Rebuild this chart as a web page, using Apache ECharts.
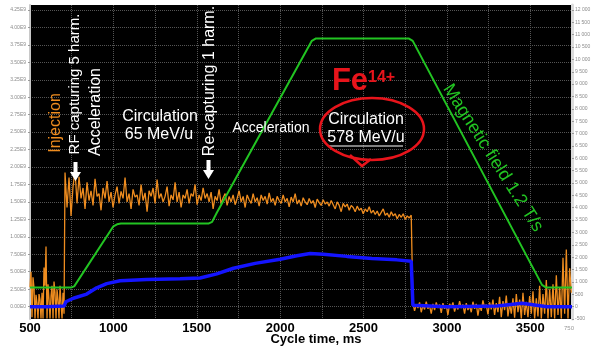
<!DOCTYPE html>
<html>
<head>
<meta charset="utf-8">
<script src="https://cdn.jsdelivr.net/npm/echarts@6/dist/echarts.min.js"></script>
<style>
html,body{margin:0;padding:0;background:#fff;}
#main{width:592px;height:347px;}
</style>
</head>
<body>
<div id="main"></div>
<script>
// beam current (left axis, units of 1E9), sampled in three runs
var orangePreStart = 500, orangePreStep = 6;
var orangePre = [0.28, 0.5, -0.15, 0.42, 0.27, -0.17, 0.17, 0.05, -0.17, 0.18, 0.1, -0.17, 0.2, -0.17, 0.56, 0.3, 0.86, -0.17, 0.32, 0.1,
  -0.17, 0.15, 0.3, -0.17, 0.36, 0.2, -0.17, 0.25, 0.1, -0.17, 0.3, 0.05, -0.17, 0.2, -0.1];
var orangeCircStart = 710, orangeCircStep = 12;
var orangeCirc = [
  1.92, 1.42, 1.85, 1.3, 1.72, 1.95, 1.48, 1.86, 1.55, 1.7, 1.4, 1.78,
  1.52, 1.66, 1.45, 1.83, 1.58, 1.62, 1.38, 1.7, 1.55, 1.8, 1.5, 1.64,
  1.42, 1.6, 1.72, 1.48, 1.65, 1.55, 1.85, 1.5, 1.62, 1.4, 1.68, 1.57,
  1.6, 1.45, 1.75, 1.52, 1.63, 1.36, 1.66, 1.58, 1.7, 1.48, 1.82, 1.55,
  1.62, 1.5, 1.58, 1.72, 1.44, 1.6, 1.53, 1.78, 1.5, 1.64, 1.42, 1.6,
  1.55, 1.68, 1.48, 1.62, 1.58, 1.75, 1.46, 1.6, 1.52, 1.7, 1.55, 1.62,
  1.5, 1.64, 1.4, 1.58, 1.52, 1.68, 1.47, 1.56, 1.62, 1.45, 1.58, 1.5,
  1.6, 1.46, 1.55, 1.66, 1.5, 1.58, 1.42, 1.6, 1.53, 1.48, 1.62, 1.5,
  1.56, 1.44, 1.6, 1.52, 1.58, 1.47, 1.63, 1.5, 1.55, 1.45, 1.58, 1.52,
  1.48, 1.6, 1.5, 1.55, 1.43, 1.57, 1.5, 1.62, 1.47, 1.53, 1.44, 1.56,
  1.5, 1.46, 1.55, 1.48, 1.52, 1.42, 1.54, 1.49, 1.45, 1.53, 1.47, 1.5,
  1.44, 1.52, 1.46, 1.4, 1.5, 1.45, 1.36, 1.48, 1.43, 1.47, 1.38, 1.45,
  1.42, 1.36, 1.44, 1.38, 1.41, 1.33, 1.4, 1.36, 1.43, 1.34, 1.38, 1.32,
  1.37, 1.3, 1.35, 1.4, 1.31, 1.34, 1.28, 1.36, 1.3, 1.33, 1.26, 1.32,
  1.28, 1.33, 1.25, 1.3, 1.27, 1.31];
var orangePostStart = 2796, orangePostStep = 10;
var orangePost = [
  0.05, -0.06, 0.03, -0.02, 0.06, -0.08, 0.02, -0.04, 0.07, -0.03, 0.01, -0.1,
  0.04, -0.05, 0.06, -0.02, 0.03, -0.09, 0.05, -0.03, 0.02, -0.12, 0.04, -0.01,
  0.06, -0.07, 0.02, -0.04, 0.08, -0.02, 0.03, -0.1, 0.05, -0.05, 0.01, -0.08,
  0.07, -0.03, 0.04, -0.13, 0.02, -0.06, 0.09, -0.02, 0.03, -0.11, 0.06, -0.04,
  0.1, -0.12, 0.05, -0.08, 0.14, -0.15, 0.08, -0.05, 0.16, -0.14, 0.04, -0.1,
  0.12, -0.16, 0.18, -0.08, 0.1, -0.17, 0.2, -0.12, 0.07, -0.15, 0.15, -0.1,
  0.22, -0.17, 0.12, -0.14, 0.3, -0.17, 0.18, -0.1, 0.38, -0.17, 0.25, -0.15,
  0.32, -0.17, 0.45, -0.12, 0.28, -0.17, 0.7, -0.1, 0.82, -0.17, 0.55, 0.2];

// second beam signal (left axis, units of 1E9)
var blueTimes = [500, 600, 705, 715, 760, 840, 900, 960, 1040, 1200, 1400, 1520, 1620, 1720, 1850, 2000, 2100, 2180, 2260, 2400, 2550, 2700, 2786, 2796, 3000, 3300, 3450, 3600, 3750];
var blueValues = [0.0, 0.0, 0.01, 0.07, 0.12, 0.18, 0.27, 0.33, 0.37, 0.39, 0.4, 0.41, 0.47, 0.55, 0.62, 0.68, 0.73, 0.76, 0.75, 0.72, 0.69, 0.67, 0.65, 0.02, 0.0, 0.01, 0.05, 0.0, 0.0];

// magnetic field (right axis)
var fieldTimes = [500, 745, 765, 1000, 1022, 1045, 1570, 1592, 1620, 2190, 2215, 2770, 2795, 3570, 3595, 3750];
var fieldValues = [770, 770, 820, 3250, 3330, 3360, 3360, 3430, 3800, 10750, 10850, 10850, 10750, 880, 770, 770];

var leftTicks = [0, 0.25, 0.5, 0.75, 1, 1.25, 1.5, 1.75, 2, 2.25, 2.5, 2.75, 3, 3.25, 3.5, 3.75, 4, 4.25];
var xLabelStep = 500;

function run(start, step, vals) {
  return vals.map(function (v, i) { return [start + i * step, v]; });
}
var orangeData = run(orangePreStart, orangePreStep, orangePre)
  .concat(run(orangeCircStart, orangeCircStep, orangeCirc))
  .concat(run(orangePostStart, orangePostStep, orangePost));
var blueData = blueTimes.map(function (t, i) { return [t, blueValues[i]]; });
var fieldData = fieldTimes.map(function (t, i) { return [t, fieldValues[i]]; });

var FONT = '"Liberation Sans", Arial, sans-serif';
function txt(s, x, y, size, color, rot, weight) {
  return {
    type: 'text', x: x, y: y, rotation: rot || 0, z: 100,
    style: { text: s, fill: color, font: (weight || 'normal') + ' ' + size + 'px ' + FONT, align: 'center', verticalAlign: 'middle' }
  };
}
function arrow(x, y) {
  return {
    type: 'polygon', z: 100,
    shape: { points: [[x - 2, y], [x + 2, y], [x + 2, y + 10], [x + 5.5, y + 10], [x, y + 19], [x - 5.5, y + 10], [x - 2, y + 10]] },
    style: { fill: '#fff' }
  };
}
var up = Math.PI / 2;
var grey = '#8a8a8a';

var chart = echarts.init(document.getElementById('main'));
chart.setOption({
  animation: false,
  backgroundColor: '#fff',
  grid: {
    left: 30, right: 20, top: 5, bottom: 28, show: true, backgroundColor: '#000', borderWidth: 0,
    outerBoundsMode: 'none', containLabel: false
  },
  xAxis: {
    type: 'value', min: 500, max: 3750, interval: 250,
    axisLine: { show: false }, axisTick: { show: false },
    axisLabel: {
      interval: 0, margin: 3, color: '#000', fontWeight: 'bold', fontSize: 13, fontFamily: FONT,
      formatter: function (v) { return (v % xLabelStep === 0 && v < 3750) ? String(v) : ''; }
    },
    splitLine: { show: true, lineStyle: { color: '#555', type: 'dotted', width: 1 } }
  },
  yAxis: [{
    type: 'value', position: 'left', min: -0.177, max: 4.321,
    axisLine: { show: true, lineStyle: { color: '#c8c8c8', width: 2 } },
    axisTick: { show: true, length: 2, customValues: leftTicks, lineStyle: { color: '#999' } },
    axisLabel: {
      customValues: leftTicks, fontSize: 5, color: grey, margin: 4, fontFamily: FONT,
      formatter: function (v) { return (v * 1e9).toExponential(2).replace('e+', 'E'); }
    },
    splitLine: { show: true, lineStyle: { color: '#555', type: 'dotted', width: 1 } },
    name: 'N, шт', nameLocation: 'middle', nameGap: 23, nameRotate: 90,
    nameTextStyle: { fontSize: 5, color: grey }
  }, {
    type: 'value', position: 'right', min: -500, max: 12200, interval: 500,
    axisLine: { show: true, lineStyle: { color: '#dcdcdc', width: 3 } },
    axisTick: { show: true, length: 2, lineStyle: { color: '#999' } },
    axisLabel: {
      fontSize: 5, color: grey, margin: 3, showMaxLabel: false, fontFamily: FONT,
      formatter: function (v) {
        var s = String(Math.abs(v));
        if (s.length > 3) s = s.slice(0, -3) + ' ' + s.slice(-3);
        return (v < 0 ? '-' : '') + s;
      }
    },
    splitLine: { show: false }
  }],
  series: [{
    name: 'beam', type: 'line', yAxisIndex: 0, data: orangeData, symbol: 'none', z: 2,
    lineStyle: { color: '#ee8c1f', width: 1.3 }
  }, {
    name: 'intensity', type: 'line', yAxisIndex: 0, data: blueData, symbol: 'none', z: 3,
    lineStyle: { color: '#1414ff', width: 3.5 }
  }, {
    name: 'field', type: 'line', yAxisIndex: 1, data: fieldData, symbol: 'none', z: 4,
    lineStyle: { color: '#22c422', width: 2 }
  }],
  graphic: [
    txt('Cycle time, ms', 316, 339, 13, '#000', 0, 'bold'),
    txt('Injection', 56, 123, 16, '#ee8c1f', up),
    txt('RF capturing 5 harm.', 75, 84, 15, '#fff', up),
    txt('Acceleration', 96, 112, 16, '#fff', up),
    txt('Circulation', 160, 117, 16, '#fff'),
    txt('65 MeV/u', 159, 135, 16, '#fff'),
    txt('Re-capturing 1 harm.', 210, 81, 16, '#fff', up),
    txt('Acceleration', 271, 128, 14, '#fff'),
    txt('Circulation', 366, 120, 16, '#fff'),
    txt('578 MeV/u', 366, 138, 16, '#fff'),
    { type: 'line', z: 100, shape: { x1: 329, y1: 146, x2: 403, y2: 146 }, style: { stroke: '#fff', lineWidth: 1 } },
    txt('Fe', 350, 81, 31, '#e8141b', 0, 'bold'),
    { type: 'text', x: 368, y: 78, z: 100, style: { text: '14+', fill: '#e8141b', font: 'bold 16px ' + FONT, align: 'left', verticalAlign: 'middle' } },
    { type: 'ellipse', z: 100, shape: { cx: 372, cy: 129, rx: 52, ry: 31 }, style: { stroke: '#e8141b', lineWidth: 2.5, fill: null } },
    { type: 'polyline', z: 100, shape: { points: [[350, 155], [362, 166], [371, 159]] }, style: { stroke: '#e8141b', lineWidth: 2.5 } },
    txt('Magnetic field 1.2 T/s', 493, 158, 18, '#22c422', -57.4 * Math.PI / 180),
    arrow(75.5, 162),
    arrow(208.5, 160),
    txt('750', 569, 328, 6, '#999')
  ]
});
</script>
</body>
</html>
